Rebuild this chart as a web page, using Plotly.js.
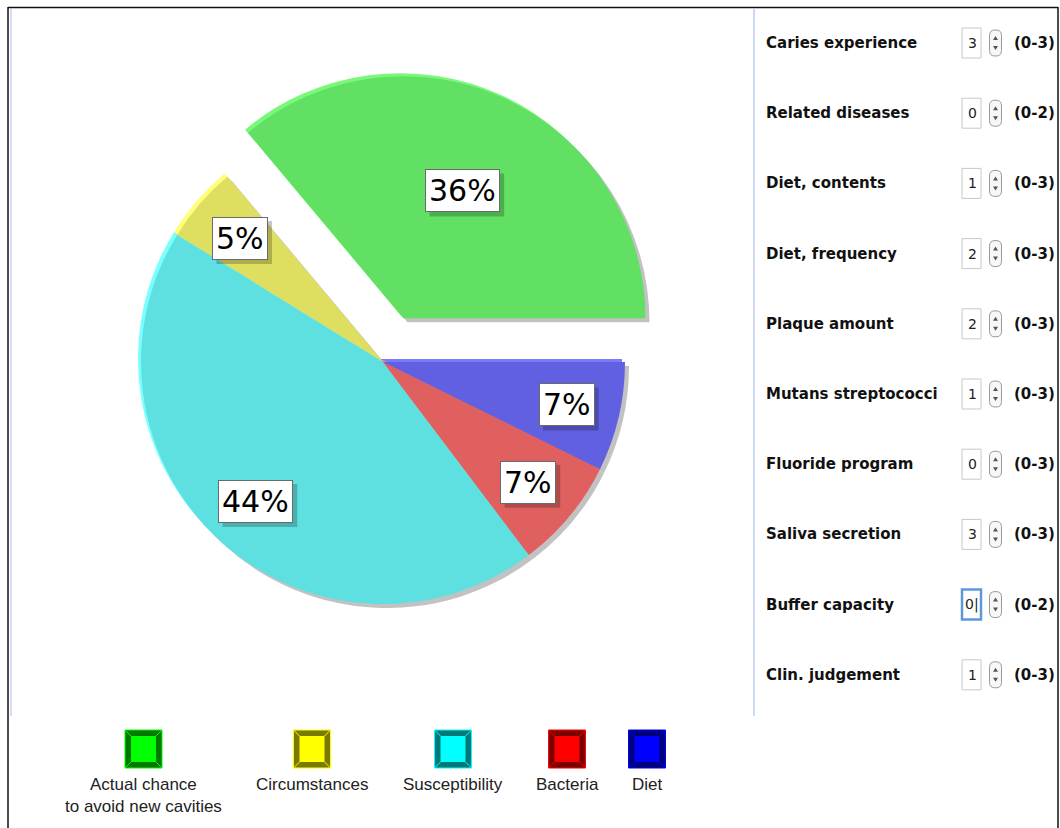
<!DOCTYPE html>
<html>
<head>
<meta charset="utf-8">
<script src="https://cdn.plot.ly/plotly-3.0.1.min.js"></script>
<style>html,body{margin:0;padding:0;background:#fff;}#chart{width:1060px;height:828px;}</style>
</head>
<body>
<div id="chart"></div>
<script>
// ---- data ----
const categories = ['Actual chance<br>to avoid new cavities', 'Circumstances', 'Susceptibility', 'Bacteria', 'Diet'];
const shares = [36.1, 5.1, 44.1, 7.4, 7.3];
const pulls = [0.2, 0, 0, 0, 0];
const sliceColors = ['#61e063', '#dede60', '#5fe0e0', '#e06060', '#6060e0'];
const rimColors = ['#7af87a', '#ffff7a', '#7affff', '#ff7a7a', '#7a7aff'];
const legendColors = ['#00ff00', '#ffff00', '#00ffff', '#ff0000', '#0000ff'];
const legendDark = ['#007800', '#7a7a00', '#007878', '#7a0000', '#00007a'];

const factorLabels = ['Caries experience', 'Related diseases', 'Diet, contents', 'Diet, frequency', 'Plaque amount',
  'Mutans streptococci', 'Fluoride program', 'Saliva secretion', 'Buffer capacity', 'Clin. judgement'];
const factorValues = [3, 0, 1, 2, 2, 1, 0, 3, 0, 1];
const factorRanges = ['(0-3)', '(0-2)', '(0-3)', '(0-3)', '(0-3)', '(0-3)', '(0-3)', '(0-3)', '(0-2)', '(0-3)'];
const focusedFactor = 8;

// ---- layout helpers ----
const W = 1060, H = 828;
const X = p => p / W;
const Y = p => 1 - p / H;
const cx = 383, cy = 362, r = 242;
const maxPull = Math.max(...pulls);
const half = r * (1 + maxPull);
const total = shares.reduce((a, b) => a + b, 0);
// first slice starts at 3 o'clock and runs counterclockwise
const startRotation = 90 - 360 * shares[0] / total;

function dom(dx, dy) {
  return {x: [X(cx - half + dx), X(cx + half + dx)], y: [Y(cy + half + dy), Y(cy - half + dy)]};
}
function pieTrace(colors, dx, dy) {
  return {
    type: 'pie', values: shares, labels: categories, sort: false, direction: 'counterclockwise',
    rotation: startRotation, pull: pulls, textinfo: 'none', hoverinfo: 'skip', showlegend: false,
    marker: {colors: colors, line: {width: 0}}, domain: dom(dx, dy)
  };
}
const data = [
  pieTrace(shares.map(() => '#c2c2c2'), 4, 4),
  pieTrace(rimColors, -3, -3),
  pieTrace(sliceColors, 0, 0)
];

const shapes = [];
const annotations = [];

// pie labels (white boxes with a soft drop shadow)
const labelSize = 30;
let cum = 0;
shares.forEach((v, i) => {
  const th = 2 * Math.PI * (cum + v / 2) / total;
  cum += v;
  const px = cx + 0.78 * r * Math.cos(th);
  const py = cy - 0.78 * r * Math.sin(th);
  const txt = Math.round(v / total * 100) + '%';
  const bw = ((txt.length - 1) * 0.636 + 0.95) * labelSize + 8;
  const bh = 43;
  shapes.push({type: 'rect', xref: 'paper', yref: 'paper', layer: 'above',
    x0: X(px - bw / 2 + 4), x1: X(px + bw / 2 + 4), y0: Y(py + bh / 2 + 4), y1: Y(py - bh / 2 + 4),
    fillcolor: 'rgba(0,0,0,0.22)', line: {width: 0}});
  annotations.push({x: X(px), y: Y(py), xref: 'paper', yref: 'paper', xanchor: 'center', yanchor: 'middle',
    showarrow: false, text: txt,
    font: {family: 'DejaVu Sans', size: labelSize, color: '#000'},
    bgcolor: '#ffffff', borderpad: 3, borderwidth: 1, bordercolor: '#6a6a6a'});
});

// frame
shapes.push({type: 'line', xref: 'paper', yref: 'paper', x0: X(8), x1: X(1058), y0: Y(7.5), y1: Y(7.5), line: {color: '#111', width: 1.5}});
shapes.push({type: 'line', xref: 'paper', yref: 'paper', x0: X(8), x1: X(8), y0: Y(7), y1: Y(828), line: {color: '#111', width: 1.5}});
shapes.push({type: 'line', xref: 'paper', yref: 'paper', x0: X(1058), x1: X(1058), y0: Y(7), y1: Y(828), line: {color: '#111', width: 1.5}});
shapes.push({type: 'line', xref: 'paper', yref: 'paper', x0: X(11), x1: X(11), y0: Y(9), y1: Y(716), line: {color: '#d4ddf5', width: 2}});
shapes.push({type: 'line', xref: 'paper', yref: 'paper', x0: X(754), x1: X(754), y0: Y(9), y1: Y(716), line: {color: '#cdd8f2', width: 2}});

// right panel
factorLabels.forEach((lab, i) => {
  const ry = 43 + i * 70.2;
  annotations.push({x: X(764), y: Y(ry), xref: 'paper', yref: 'paper', xanchor: 'left', yanchor: 'middle',
    showarrow: false, text: '<b>' + lab + '</b>', font: {family: 'DejaVu Sans', size: 15, color: '#111'}});
  const focused = i === focusedFactor;
  shapes.push({type: 'rect', xref: 'paper', yref: 'paper', x0: X(962), x1: X(981), y0: Y(ry - 15), y1: Y(ry + 15),
    fillcolor: '#fff', line: {color: focused ? '#5b9ad6' : '#c8c8c8', width: focused ? 2.5 : 1}});
  annotations.push({x: X(972), y: Y(ry), xref: 'paper', yref: 'paper', xanchor: 'center', yanchor: 'middle',
    showarrow: false, text: String(factorValues[i]) + (focused ? '|' : ''), font: {family: 'DejaVu Sans', size: 14, color: '#222'}});
  // spinner capsule
  const x0 = 989.5, x1 = 1001.5, y0 = ry - 13, y1 = ry + 13, rr = 5.5;
  const p = (a, b) => X(a) + ',' + Y(b);
  shapes.push({type: 'path', xref: 'paper', yref: 'paper',
    path: 'M' + p(x0 + rr, y0) + ' L' + p(x1 - rr, y0) + ' Q' + p(x1, y0) + ' ' + p(x1, y0 + rr) +
      ' L' + p(x1, y1 - rr) + ' Q' + p(x1, y1) + ' ' + p(x1 - rr, y1) + ' L' + p(x0 + rr, y1) +
      ' Q' + p(x0, y1) + ' ' + p(x0, y1 - rr) + ' L' + p(x0, y0 + rr) + ' Q' + p(x0, y0) + ' ' + p(x0 + rr, y0) + ' Z',
    fillcolor: '#f7f7f7', line: {color: '#9a9a9a', width: 1}});
  const mx = (x0 + x1) / 2;
  shapes.push({type: 'path', xref: 'paper', yref: 'paper', path: 'M' + p(mx - 2.5, ry - 3) + ' L' + p(mx + 2.5, ry - 3) + ' L' + p(mx, ry - 7) + ' Z',
    fillcolor: '#555', line: {width: 0}});
  shapes.push({type: 'path', xref: 'paper', yref: 'paper', path: 'M' + p(mx - 2.5, ry + 3) + ' L' + p(mx + 2.5, ry + 3) + ' L' + p(mx, ry + 7) + ' Z',
    fillcolor: '#555', line: {width: 0}});
  annotations.push({x: X(1012), y: Y(ry), xref: 'paper', yref: 'paper', xanchor: 'left', yanchor: 'middle',
    showarrow: false, text: '<b>' + factorRanges[i] + '</b>', font: {family: 'DejaVu Sans', size: 15, color: '#111'}});
});

// custom legend
const legendX = [143.5, 312, 453, 567, 647];
categories.forEach((c, i) => {
  const lx = legendX[i], ly = 749, hw = 18.5, hh = 19, b = 6;
  shapes.push({type: 'rect', xref: 'paper', yref: 'paper', x0: X(lx - hw), x1: X(lx + hw), y0: Y(ly + hh), y1: Y(ly - hh),
    fillcolor: legendDark[i], line: {color: legendColors[i], width: 1}});
  shapes.push({type: 'rect', xref: 'paper', yref: 'paper', x0: X(lx - hw + b), x1: X(lx + hw - b), y0: Y(ly + hh - b), y1: Y(ly - hh + b),
    fillcolor: legendColors[i], line: {width: 0}});
  [[-1, -1], [1, -1], [1, 1], [-1, 1]].forEach(([sx, sy]) => {
    shapes.push({type: 'line', xref: 'paper', yref: 'paper', x0: X(lx + sx * hw), y0: Y(ly + sy * hh),
      x1: X(lx + sx * (hw - b)), y1: Y(ly + sy * (hh - b)), line: {color: legendColors[i], width: 1}});
  });
  annotations.push({x: X(lx), y: Y(773), xref: 'paper', yref: 'paper', xanchor: 'center', yanchor: 'top',
    showarrow: false, text: c, font: {family: 'Liberation Sans', size: 17, color: '#222'}, align: 'center'});
});

const layout = {
  width: W, height: H, margin: {l: 0, r: 0, t: 0, b: 0},
  paper_bgcolor: '#fff', plot_bgcolor: '#fff', showlegend: false,
  shapes: shapes, annotations: annotations
};
Plotly.newPlot('chart', data, layout, {displayModeBar: false, staticPlot: true});
</script>
</body>
</html>
